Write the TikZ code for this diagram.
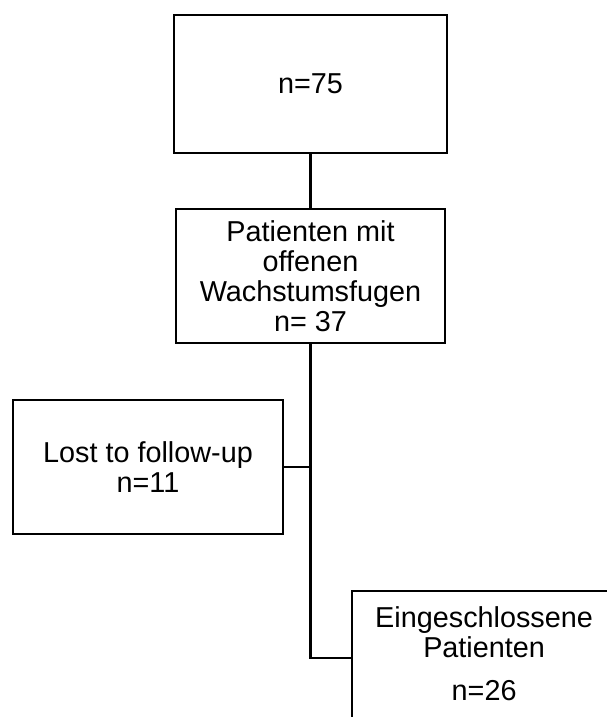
\documentclass[tikz,border=0pt]{standalone}
\usepackage{fontspec}
\setmainfont{Liberation Sans}
\begin{document}
\begin{tikzpicture}[x=1pt,y=-1pt,
  box/.style={draw, line width=2.2pt, align=center, inner sep=0pt,
    font=\fontsize{28.8}{30}\selectfont},
  conn/.style={line width=2.2pt}]
\useasboundingbox (0,0) rectangle (607,717);
\clip (0,0) rectangle (607,717);
\node[box, minimum width=273pt, minimum height=138pt] (n75) at (310.5,84) {n=75};
\node[box, minimum width=269pt, minimum height=134pt] (n37) at (310.5,276)
  {Patienten mit\\offenen\\Wachstumsfugen\\n= 37};
\node[box, minimum width=270pt, minimum height=134pt] (n11) at (148,467)
  {Lost to follow-up\\n=11};
\node[box, minimum width=274pt, minimum height=134pt, anchor=west] (n26) at (351,658)
  {\hspace*{-10pt}\raisebox{-4pt}{\begin{tabular}{@{}c@{}}Eingeschlossene\\Patienten\\[13pt]n=26\end{tabular}}};
\draw[conn] (n75.south) -- (n37.north);
\draw[conn] (n37.south) |- (n26.west);
\draw[conn] (n37.south |- n11.east) -- (n11.east);
\end{tikzpicture}
\end{document}
